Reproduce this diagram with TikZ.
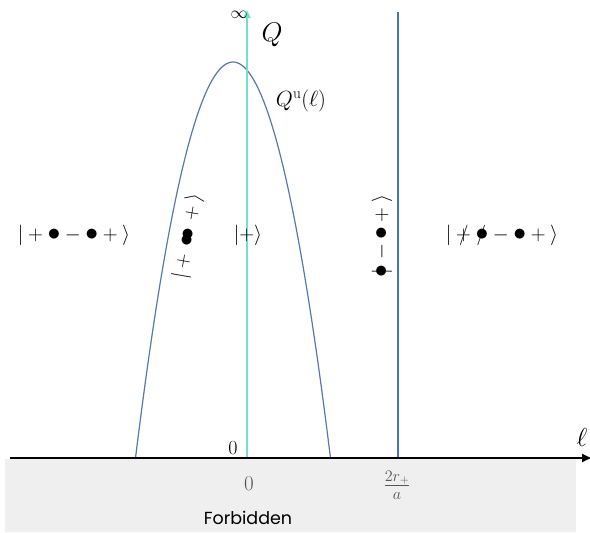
\RequirePackage{fix-cm}
\documentclass[tikz,border=0pt]{standalone}
\usepackage{fontspec}
\newfontfamily\sansfont{Poppins}
\usetikzlibrary{arrows.meta}
\definecolor{aqua}{HTML}{72E0CB}
\definecolor{lineblue}{HTML}{4472C4}
\definecolor{curveblue}{HTML}{5677B5}
\definecolor{forbid}{HTML}{EFEFEF}
\definecolor{graytext}{HTML}{555555}
\newcommand\bigdot{\vcenter{\hbox{\scalebox{1.25}{$\bullet$}}}}
\tikzset{
  statelbl/.style={inner sep=0pt, font=\fontsize{20.5}{25}\selectfont},
  ticklbl/.style={inner sep=0pt, text=graytext},
}
\begin{document}
\begin{tikzpicture}[x=1pt,y=-1pt]
\useasboundingbox (0,0) rectangle (590,533);
% forbidden region
\fill[forbid] (5,459) rectangle (576,532);
\node[inner sep=0pt, font=\sansfont\fontsize{17.5}{21}\selectfont] (forb) at (248,518) {Forbidden};
% axes end points
\coordinate (xstart) at (10,458);
\coordinate (xend) at (591,458);
\coordinate (ybot) at (247,458);
\coordinate (ytop) at (247,10);
\coordinate (bbot) at (398,458);
\coordinate (btop) at (398,12);
% parabola
\draw[curveblue, line width=1.2pt] plot[domain=135.5:330.5, samples=80] (\x, {62 + 396*((\x-233)/97.5)^2});
% vertical lines
\draw[aqua, line width=2pt, -{Triangle[length=8pt,width=7pt]}] (ybot) -- (ytop);
\draw[lineblue, line width=2pt] (bbot) -- (btop);
% horizontal axis
\draw[black, line width=1.8pt, -{Triangle[length=9pt,width=8pt]}] (xstart) -- (xend);
% labels
\node[inner sep=0pt, font=\fontsize{17}{20}\selectfont] (inf) at (239,15) {$\infty$};
\node[inner sep=0pt, font=\fontsize{27}{30}\selectfont] (Q) at (272,35) {$Q$};
\node[inner sep=0pt, font=\fontsize{22}{26}\selectfont] (Qu) at (301,101) {$Q^{\mathrm{u}}(\ell)$};
\node[inner sep=0pt, font=\fontsize{20}{24}\selectfont] (zeroA) at (233,448) {$0$};
\node[inner sep=0pt, font=\fontsize{26}{30}\selectfont] (ell) at (582,437) {$\ell$};
\node[ticklbl, font=\fontsize{21}{25}\selectfont] (zeroB) at (249,484) {$0$};
\node[ticklbl, font=\fontsize{23}{27}\selectfont] (twor) at (397,485) {$\frac{2r_+}{a}$};
% states
\node[statelbl] (sL) at (74,235) {$|+\bigdot-\bigdot+{}\rangle$};
\node[statelbl] (sC) at (248,235) {$|+\rangle$};
\node[statelbl] (sR) at (502,235) {$|\mathbin{\makebox[0pt][l]{\hspace{0.14em}$/$}+}\mathbin{\makebox[0pt][l]{\hspace{0.06em}$/$}\bigdot}-\bigdot+{}\rangle$};
\node[statelbl, rotate=80] (sRot) at (188,236) {$|+\mkern3mu\bigdot\mkern-6.5mu\bigdot\mkern3mu+{}\rangle$};
\node[statelbl, rotate=90] (sV) at (382,236) {\makebox[0pt][l]{\hspace{3.2pt}$|$}$\bigdot-\bigdot+{}\rangle$};
\end{tikzpicture}
\end{document}
